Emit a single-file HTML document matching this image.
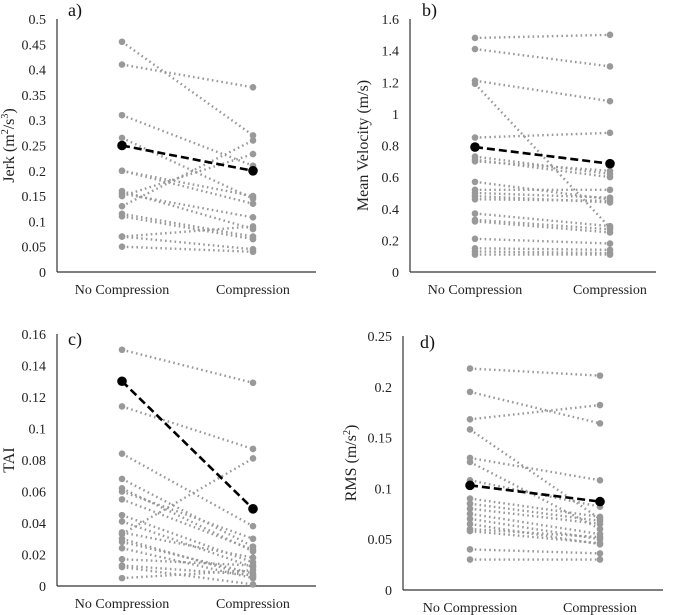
<!DOCTYPE html>
<html><head><meta charset="utf-8"><style>
html,body{margin:0;padding:0;background:#fff;}
svg{display:block;font-family:"Liberation Serif",serif;}
</style></head><body>
<svg id="fig" width="677" height="615" viewBox="0 0 677 615"></svg>
<script>
const categories = ["No Compression","Compression"];
// Panel a: Jerk
const jerkNo = [0.455,0.41,0.31,0.265,0.2,0.2,0.16,0.155,0.15,0.13,0.115,0.11,0.07,0.07,0.05];
const jerkComp = [0.27,0.365,0.21,0.145,0.15,0.135,0.085,0.108,0.233,0.26,0.07,0.065,0.09,0.045,0.04];
const jerkMean = [0.25,0.2];
const jerkTicks = ["0","0.05","0.1","0.15","0.2","0.25","0.3","0.35","0.4","0.45","0.5"];
// Panel b: Mean velocity
const velNo = [1.48,1.41,1.21,1.19,0.85,0.73,0.71,0.7,0.57,0.52,0.5,0.48,0.46,0.37,0.33,0.32,0.21,0.15,0.13,0.11];
const velComp = [1.5,1.3,1.08,0.28,0.88,0.62,0.6,0.64,0.46,0.52,0.47,0.44,0.45,0.29,0.27,0.25,0.18,0.14,0.12,0.11];
const velMean = [0.79,0.685];
const velTicks = ["0","0.2","0.4","0.6","0.8","1","1.2","1.4","1.6"];
// Panel c: TAI
const taiNo = [0.15,0.114,0.084,0.068,0.062,0.06,0.055,0.045,0.033,0.041,0.034,0.03,0.028,0.024,0.017,0.013,0.012,0.005];
const taiComp = [0.129,0.087,0.038,0.025,0.022,0.03,0.023,0.015,0.081,0.012,0.018,0.006,0.008,0.005,0.013,0.007,0.001,0.01];
const taiMean = [0.13,0.049];
const taiTicks = ["0","0.02","0.04","0.06","0.08","0.1","0.12","0.14","0.16"];
// Panel d: RMS
const rmsNo = [0.218,0.195,0.168,0.158,0.13,0.126,0.108,0.09,0.085,0.08,0.075,0.07,0.065,0.06,0.058,0.04,0.03];
const rmsComp = [0.211,0.164,0.182,0.07,0.108,0.06,0.082,0.072,0.068,0.065,0.055,0.05,0.045,0.052,0.046,0.036,0.03];
const rmsMean = [0.103,0.087];
const rmsTicks = ["0","0.05","0.1","0.15","0.2","0.25"];

const NS="http://www.w3.org/2000/svg";
const svg=document.getElementById('fig');
function mk(tag,attrs,parent){const e=document.createElementNS(NS,tag);for(const k in attrs)e.setAttribute(k,attrs[k]);(parent||svg).appendChild(e);return e;}

function panel(cfg){
  const g=mk('g',{});
  
  
  const ticks=cfg.ticks, maxV=parseFloat(ticks[ticks.length-1]);
  const y=v=>cfg.y0-(v/maxV)*(cfg.y0-cfg.y1);
  const x=i=>i===0?cfg.xa:cfg.xb;
  const ax=mk('line',{x1:cfg.ax,y1:cfg.y1,x2:cfg.ax,y2:cfg.y0,stroke:'#333','stroke-width':1.2},g);
  
  
  const bx=mk('line',{x1:cfg.ax,y1:cfg.y0,x2:cfg.axEnd,y2:cfg.y0,stroke:'#333','stroke-width':1.2},g);
  
  
  ticks.forEach(t=>{
    const tx=mk('text',{x:cfg.ax-11,y:y(parseFloat(t))+5,'text-anchor':'end','font-size':14,fill:'#222'},g);
    tx.textContent=t;
    
    
  });
  categories.forEach((c,i)=>{
    const tx=mk('text',{x:x(i),y:cfg.y0+22,'text-anchor':'middle','font-size':14,fill:'#222'},g);
    tx.textContent=c;
    
    
  });
  const tt=mk('text',{x:cfg.tx,y:cfg.ty,'font-size':18,fill:'#111'},g);
  tt.textContent=cfg.title;
  
  
  const yt=mk('text',{x:0,y:0,'text-anchor':'middle','font-size':16,fill:'#222',transform:`translate(${cfg.ytx},${(cfg.y0+cfg.y1)/2}) rotate(-90)`},g);
  yt.innerHTML=cfg.ytitle;
  
  
  cfg.no.forEach((v,i)=>{
    const l=mk('line',{x1:x(0),y1:y(v),x2:x(1),y2:y(cfg.comp[i]),stroke:'#999','stroke-width':2.4,'stroke-dasharray':'1.6 3.2'},g);
    
    
    [[0,v],[1,cfg.comp[i]]].forEach(p=>{
      const c=mk('circle',{cx:x(p[0]),cy:y(p[1]),r:3.3,fill:'#999'},g);
      
      
    });
  });
  const m=mk('line',{x1:x(0),y1:y(cfg.mean[0]),x2:x(1),y2:y(cfg.mean[1]),stroke:'#000','stroke-width':2.6,'stroke-dasharray':'8 4'},g);
  
  
  cfg.mean.forEach((v,i)=>{
    const c=mk('circle',{cx:x(i),cy:y(v),r:4.8,fill:'#000'},g);
    
    
  });
}
panel({name:'panel-a-jerk',ax:57,axEnd:316,y0:272,y1:19,xa:122,xb:253,ticks:jerkTicks,no:jerkNo,comp:jerkComp,mean:jerkMean,title:'a)',tx:68,ty:16,ytx:14,ytitle:'Jerk (m<tspan font-size="10" dy="-6">2</tspan><tspan dy="6">/s</tspan><tspan font-size="10" dy="-6">3</tspan><tspan dy="6">)</tspan>'});
panel({name:'panel-b-velocity',ax:410,axEnd:656,y0:272,y1:19,xa:475,xb:610,ticks:velTicks,no:velNo,comp:velComp,mean:velMean,title:'b)',tx:422,ty:16,ytx:368,ytitle:'Mean Velocity (m/s)'});
panel({name:'panel-c-tai',ax:57,axEnd:316,y0:586,y1:334,xa:122,xb:253,ticks:taiTicks,no:taiNo,comp:taiComp,mean:taiMean,title:'c)',tx:68,ty:345,ytx:14,ytitle:'TAI'});
panel({name:'panel-d-rms',ax:403,axEnd:663,y0:590,y1:336,xa:470,xb:600,ticks:rmsTicks,no:rmsNo,comp:rmsComp,mean:rmsMean,title:'d)',tx:420,ty:348,ytx:356,ytitle:'RMS (m/s<tspan font-size="10" dy="-6">2</tspan><tspan dy="6">)</tspan>'});
</script>
</body></html>
